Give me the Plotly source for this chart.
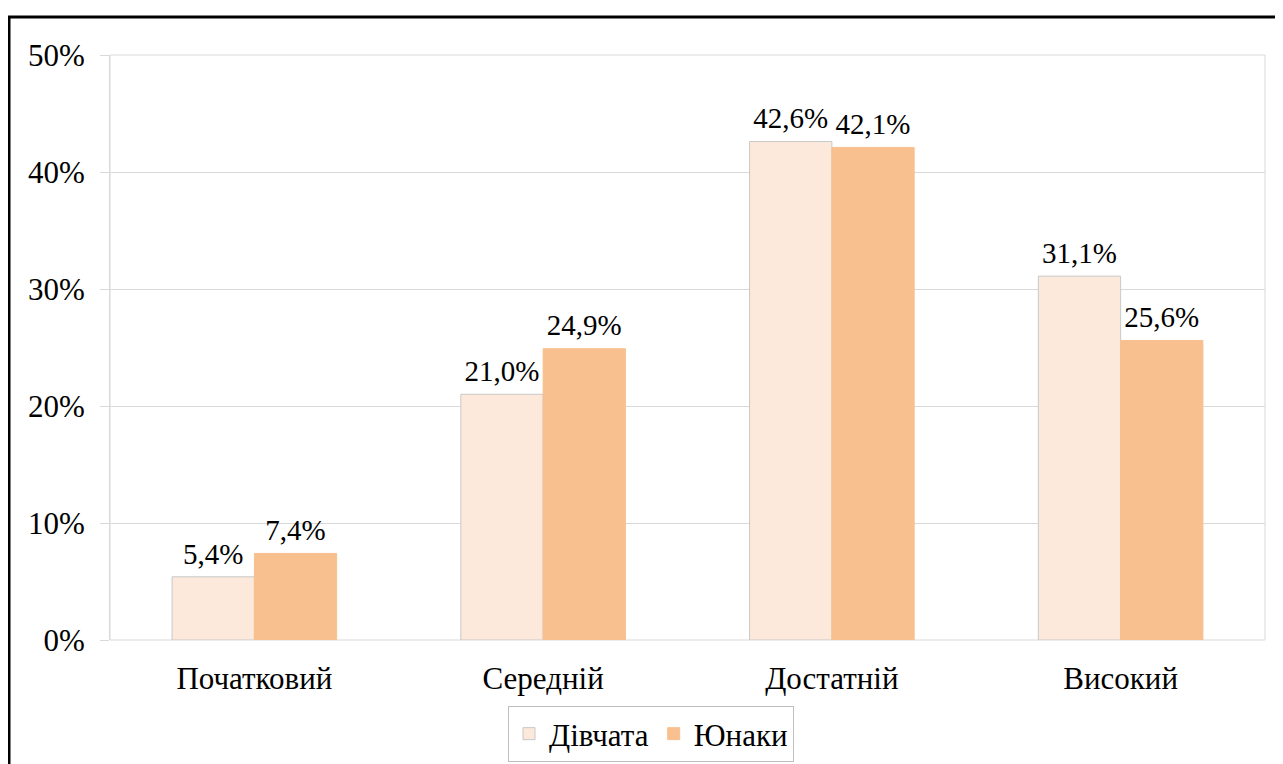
import plotly.graph_objects as go

categories = ["Початковий", "Середній", "Достатній", "Високий"]
girls = [5.4, 21.0, 42.6, 31.1]
boys = [7.4, 24.9, 42.1, 25.6]
series_names = ["Дівчата", "Юнаки"]
y_ticks = [0, 10, 20, 30, 40, 50]

FONT = "Liberation Serif"

def fmt(v):
    return f"{v:.1f}".replace(".", ",") + "%"

OFF = 8  # page body margin
W, H = 1283 - OFF, 764 - OFF
# screen-space plot box: x 110..1265, y 55..640
ml, mt = 110 - OFF, 55 - OFF
mr = W - (1265 - OFF)
mb = H - (640 - OFF)
pw = W - ml - mr
ph = H - mt - mb

fig = go.Figure()
fig.add_trace(go.Bar(
    x=categories, y=girls, name=series_names[0],
    marker=dict(color="#FCE9DB", line=dict(color="#C8C8C8", width=1)),
))
fig.add_trace(go.Bar(
    x=categories, y=boys, name=series_names[1],
    marker=dict(color="#F8C08F", line=dict(color="#F8C08F", width=1)),
))
# data labels, grouped like the bars
for vals in (girls, boys):
    fig.add_trace(go.Scatter(
        x=categories, y=vals, mode="markers+text", showlegend=False,
        marker=dict(size=8, color="rgba(0,0,0,0)"),
        text=[fmt(v) for v in vals], textposition="top center",
        textfont=dict(family=FONT, size=29, color="#000000"),
        cliponaxis=False, hoverinfo="skip",
    ))

def px_x(x):  # screen px -> paper
    return (x - OFF - ml) / pw

fig.update_layout(
    width=W, height=H,
    margin=dict(l=ml, r=mr, t=mt, b=mb, pad=0, autoexpand=False),
    paper_bgcolor="white", plot_bgcolor="white",
    barmode="group", bargap=0.43, bargroupgap=0,
    scattermode="group", scattergap=0.43,
    font=dict(family=FONT, size=30, color="#000000"),
    showlegend=True,
    legend=dict(
        orientation="h", x=px_x(651), xanchor="center",
        yref="container", y=1 - (706 - OFF) / H, yanchor="top",
        bordercolor="#BFBFBF", borderwidth=1, font=dict(family=FONT, size=31),
        traceorder="normal", itemwidth=30,
    ),
    xaxis=dict(
        showline=False, ticks="", tickfont=dict(family=FONT, size=31),
        showgrid=False, ticklabelstandoff=17, automargin=False,
    ),
    yaxis=dict(
        range=[0, 50], tickvals=y_ticks, ticktext=[f"{v}%" for v in y_ticks],
        showgrid=True, gridcolor="#D9D9D9", gridwidth=1,
        ticks="outside", ticklen=9, tickcolor="#D9D9D9",
        showline=True, linecolor="#D9D9D9", linewidth=1,
        tickfont=dict(family=FONT, size=31), zeroline=False,
        ticklabelstandoff=9, automargin=False,
    ),
    shapes=[
        dict(type="rect", xref="paper", yref="paper",
             x0=0, x1=1, y0=0, y1=1, line=dict(color="#D9D9D9", width=1), layer="below"),
        dict(type="rect", xref="paper", yref="paper",
             x0=px_x(9), x1=px_x(1300), y0=-0.3, y1=1 + (55 - 17) / ph,
             line=dict(color="#000000", width=3)),
    ],
)

fig.write_html("out.html")
